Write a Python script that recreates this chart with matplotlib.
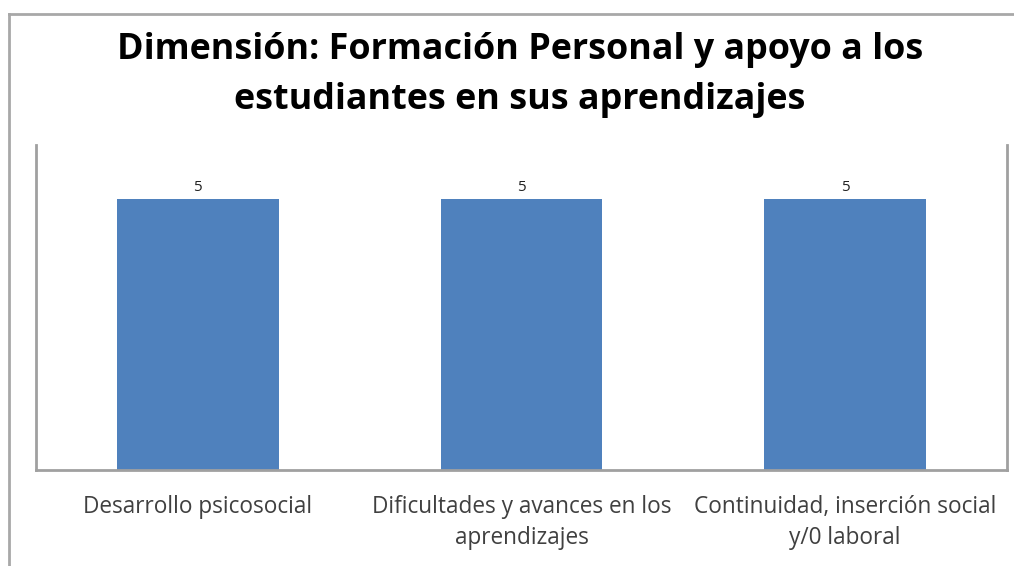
import matplotlib.pyplot as plt
from matplotlib.lines import Line2D

categories = [
    "Desarrollo psicosocial",
    "Dificultades y avances en los\naprendizajes",
    "Continuidad, inserción social\ny/0 laboral",
]
values = [5, 5, 5]
title = "Dimensión: Formación Personal y apoyo a los\nestudiantes en sus aprendizajes"

plt.rcParams["font.family"] = ["Open Sans", "DejaVu Sans"]

fig = plt.figure(figsize=(10.14, 5.66), dpi=100)
ax = fig.add_axes([36 / 1014, 1 - 470 / 566, (1007 - 36) / 1014, (470 - 145) / 566])

x = range(len(categories))
bars = ax.bar(x, values, width=0.5, color="#4F81BD", zorder=2)
for b, v in zip(bars, values):
    ax.text(b.get_x() + b.get_width() / 2, v + 0.07, str(v),
            ha="center", va="bottom", fontsize=11, color="#222222")

ax.set_xlim(-0.5, len(categories) - 0.5)
ax.set_ylim(0, 6)
ax.set_yticks([])
ax.set_xticks(list(x))
ax.set_xticklabels(categories, fontsize=16.3, color="#404040", linespacing=1.4)
ax.tick_params(axis="x", length=0, pad=18)

for side in ["left", "right", "bottom"]:
    ax.spines[side].set_color("#A0A0A0")
    ax.spines[side].set_linewidth(2)
ax.spines["top"].set_visible(False)

fig.text(0.513, 1 - 75 / 566, title, ha="center", va="center",
         fontsize=25.8, fontweight="bold", color="#000000", linespacing=1.55)

# outer chart border (top and left visible)
fig.add_artist(Line2D([9 / 1014, 1.0], [1 - 14 / 566, 1 - 14 / 566],
                      transform=fig.transFigure, color="#A8A8A8", lw=2))
fig.add_artist(Line2D([9 / 1014, 9 / 1014], [0, 1 - 14 / 566],
                      transform=fig.transFigure, color="#A8A8A8", lw=2))

fig.savefig("out.png", dpi=100)
